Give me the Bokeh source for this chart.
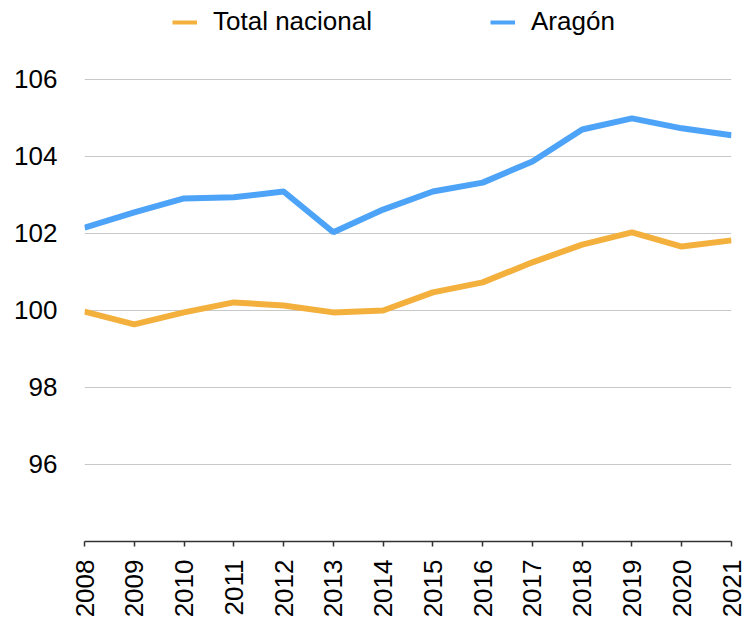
import math
from bokeh.plotting import figure
from bokeh.models import FixedTicker, Legend, LegendItem, Range1d
from bokeh.embed import file_html
from bokeh.resources import INLINE

years = [2008, 2009, 2010, 2011, 2012, 2013, 2014, 2015, 2016, 2017, 2018, 2019, 2020, 2021]
total_nacional = [99.97, 99.64, 99.95, 100.21, 100.13, 99.95, 100.0, 100.47, 100.73, 101.25, 101.71, 102.03, 101.66, 101.82]
aragon = [102.15, 102.55, 102.91, 102.94, 103.09, 102.03, 102.62, 103.09, 103.32, 103.87, 104.70, 104.99, 104.73, 104.55]
y_ticks = [96, 98, 100, 102, 104, 106]

FONT = "Liberation Sans"

p = figure(width=747, height=623, output_backend="svg", toolbar_location=None,
           x_range=Range1d(2008, 2021), y_range=Range1d(94, 108.05),
           min_border_left=84, min_border_right=16, min_border_top=0, min_border_bottom=82)
p.outline_line_color = None
p.background_fill_color = "white"
p.border_fill_color = "white"

r1 = p.line(years, total_nacional, line_color="#F3B03D", line_width=6)
r2 = p.line(years, aragon, line_color="#4DA3F7", line_width=6)

# axes
p.xaxis.ticker = FixedTicker(ticks=years)
p.xaxis.major_label_orientation = math.pi / 2
p.xaxis.major_label_text_font = FONT
p.xaxis.major_label_text_font_size = "26px"
p.xaxis.major_label_text_color = "black"
p.xaxis.axis_line_color = "#333333"
p.xaxis.axis_line_width = 1.5
p.xaxis.major_tick_line_color = "#333333"
p.xaxis.major_tick_line_width = 1.5
p.xaxis.major_tick_out = 5
p.xaxis.major_tick_in = 0
p.xaxis.minor_tick_line_color = None
p.xaxis.major_label_standoff = 13

p.yaxis.ticker = FixedTicker(ticks=y_ticks)
p.yaxis.major_label_text_font = FONT
p.yaxis.major_label_text_font_size = "26px"
p.yaxis.major_label_text_color = "black"
p.yaxis.axis_line_color = None
p.yaxis.major_tick_line_color = None
p.yaxis.minor_tick_line_color = None
p.yaxis.major_tick_out = 0
p.yaxis.major_label_standoff = 27

p.xgrid.grid_line_color = None
p.ygrid.grid_line_color = "#C8C8C8"
p.ygrid.grid_line_width = 1

# legend glyph proxies (thinner lines, as in the reference legend); drawn off-range
l1 = p.line([years[0], years[1]], [0, 0], line_color="#F3B03D", line_width=4)
l2 = p.line([years[0], years[1]], [0, 0], line_color="#4DA3F7", line_width=4)

legend = Legend(items=[LegendItem(label="Total nacional", renderers=[l1]),
                       LegendItem(label="Aragón", renderers=[l2])],
                orientation="horizontal", location=(88, 504),
                label_text_font=FONT, label_text_font_size="26px",
                label_text_color="black",
                glyph_width=25, label_standoff=16, spacing=118,
                padding=0, margin=0, border_line_color=None,
                background_fill_alpha=0)
p.add_layout(legend, "center")

open("out.html", "w").write(file_html(p, INLINE))
